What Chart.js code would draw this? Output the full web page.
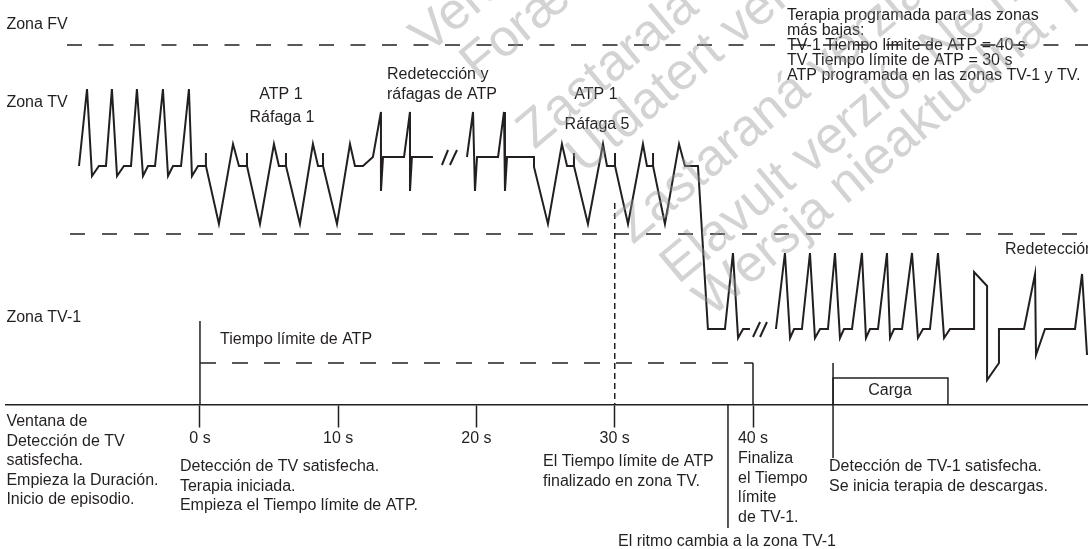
<!DOCTYPE html>
<html>
<head>
<meta charset="utf-8">
<script src="https://cdn.jsdelivr.net/npm/chart.js@4.4.1/dist/chart.umd.min.js"></script>
<style>
  html, body { margin: 0; padding: 0; background: #fff; }
  #wrap { width: 1088px; height: 549px; }
</style>
</head>
<body>
<div id="wrap"><canvas id="myChart"></canvas></div>
<script>
// time axis, seconds
const tickValues = [0, 10, 20, 30, 40];
const tickLabels = ['0 s', '10 s', '20 s', '30 s', '40 s'];

// ECG trace: time (s) and level (units above the time axis)
// TV rhythm, ATP 1 burst 1, redetection
const tvTime = [-8.75,-8.17,-7.81,-7.31,-6.80,-6.37,-6.00,-5.50,-4.99,-4.56,-4.12,-3.76,-3.25,-2.68,-2.31,-1.95,-1.37,-0.80,-0.58,-0.14,
  0.43,0.43,0.43,1.37,2.39,2.82,3.40,3.40,3.40,4.34,5.35,5.71,6.22,6.22,6.22,7.23,8.17,8.54,8.90,8.90,8.90,9.91,10.85,11.21,11.79,
  12.51,13.09,13.09,13.24,14.76,15.19,15.19,15.33,16.85];
const tvLevel = [23.9,31.6,22.9,23.9,23.9,31.6,22.9,23.9,23.9,31.6,22.9,23.9,23.9,31.6,22.9,23.9,23.9,31.6,22.9,23.9,
  23.9,25.2,23.9,18.1,26.1,23.9,23.9,25.2,23.9,18.1,26.1,23.9,23.9,25.2,23.9,18.1,26.1,23.9,23.9,25.2,23.9,18.1,26.1,23.9,23.9,
  24.8,29.3,21.4,24.8,24.8,29.3,21.4,24.8,24.8];
// redetection, ATP 1 burst 5, drop to TV-1 zone
const atpTime = [19.31,19.75,19.89,20.04,21.56,21.99,22.06,22.21,24.16,24.16,25.17,26.18,26.55,27.05,27.05,27.05,28.06,29.15,29.44,
  30.02,30.02,30.02,30.96,32.04,32.33,32.77,32.77,32.77,33.63,34.65,35.08,36.02,36.74,37.97,38.55,38.92,39.28,39.78];
const atpLevel = [24.8,29.3,21.4,24.8,24.8,29.3,21.4,24.8,24.8,23.8,18.1,26.1,23.9,23.9,25.2,23.9,18.1,26.1,23.9,
  23.9,25.2,23.9,18.1,26.1,23.9,23.9,25.2,23.9,18.1,26.1,23.9,23.9,7.6,7.6,15.2,6.7,7.6,7.6];
// TV-1 rhythm, shock, redetection
const tv1Time = [41.66,42.31,42.68,42.97,43.54,44.12,44.48,44.85,45.42,45.93,46.29,46.58,47.16,47.88,48.17,48.46,49.04,49.69,49.91,
  50.20,50.78,51.50,51.93,52.30,52.80,53.38,53.82,54.25,55.99,55.99,56.93,56.93,57.79,57.79,59.60,60.40,60.47,61.12,63.29,63.80,64.16];
const tv1Level = [7.6,15.2,6.7,7.6,7.6,15.2,6.7,7.6,7.6,15.2,6.7,7.6,7.6,15.2,6.7,7.6,7.6,15.2,6.7,
  7.6,7.6,15.2,6.7,7.6,7.6,15.2,6.7,7.6,7.6,13.3,11.9,2.5,4.2,7.6,7.6,13.1,5.0,7.6,7.6,13.1,5.0];

// break marks "//" : [t0, level0, t1, level1]
const breakMarks = [[17.50,24.0,17.94,25.5],[18.08,24.0,18.59,25.5],[40.00,6.8,40.51,8.3],[40.51,6.8,41.01,8.3]];

// zone limits (level) and event times
const fvLimit = 36.0;
const tvLimit = 17.1;
const atpTimeout = 40;       // TV-1 ATP timeout end
const tvTimeoutEnd = 30;     // TV ATP timeout end
const rhythmChange = 38.19;
const chargeStart = 45.79;
const chargeEnd = 54.10;

const ink = '#231f20';
const FONT = '"Liberation Sans", Arial, sans-serif';

const notes = [
  {lines: ['Zona FV'], x: -14.0, y: 38.0},
  {lines: ['Zona TV'], x: -14.0, y: 30.2},
  {lines: ['Zona TV-1'], x: -14.0, y: 8.7},
  {lines: ['ATP 1'], x: 5.86, y: 31.0, align: 'center'},
  {lines: ['Ráfaga 1'], x: 5.93, y: 28.7, align: 'center'},
  {lines: ['Redetección y', 'ráfagas de ATP'], x: 13.53, y: 33.0, step: 2.0},
  {lines: ['ATP 1'], x: 28.64, y: 31.0, align: 'center'},
  {lines: ['Ráfaga 5'], x: 28.72, y: 28.0, align: 'center'},
  {lines: ['Terapia programada para las zonas', 'más bajas:', 'TV-1 Tiempo límite de ATP = 40 s',
           'TV Tiempo límite de ATP = 30 s', 'ATP programada en las zonas TV-1 y TV.'], x: 42.46, y: 38.95, step: 1.5},
  {lines: ['Tiempo límite de ATP'], x: 1.45, y: 6.5},
  {lines: ['Redetección'], x: 58.23, y: 15.5},
  {lines: ['Carga'], x: 49.91, y: 1.4, align: 'center'},
  {lines: ['Ventana de', 'Detección de TV', 'satisfecha.', 'Empieza la Duración.', 'Inicio de episodio.'], x: -14.0, y: -1.7, step: 1.95},
  {lines: ['Detección de TV satisfecha.', 'Terapia iniciada.', 'Empieza el Tiempo límite de ATP.'], x: -1.45, y: -6.2, step: 1.95},
  {lines: ['El Tiempo límite de ATP', 'finalizado en zona TV.'], x: 24.81, y: -5.7, step: 1.95},
  {lines: ['Finaliza', 'el Tiempo', 'límite', 'de TV-1.'], x: 38.92, y: -5.4, step: 1.95},
  {lines: ['El ritmo cambia a la zona TV-1'], x: 30.24, y: -13.7},
  {lines: ['Detección de TV-1 satisfecha.', 'Se inicia terapia de descargas.'], x: 45.50, y: -6.2, step: 1.95}
];

const watermark = [
  {text: 'Version périmée', x: 16.49, y: 35.0},
  {text: 'Forældet version', x: 20.11, y: 32.3},
  {text: 'Zastaralá verze', x: 24.2, y: 25.5},
  {text: 'Utdatert versjon', x: 27.8, y: 23.0},
  {text: 'Zastaraná verzia', x: 31.3, y: 16.0},
  {text: 'Elavult verzió. Ne használja!', x: 34.6, y: 12.0},
  {text: 'Wersja nieaktualna. Nie używać.', x: 37.0, y: 8.7}
];

const pts = (xs, ys) => xs.map((v, i) => ({x: v, y: ys[i]}));
const seg = (data, extra) => Object.assign({
  data: data, borderColor: ink, borderWidth: 2, pointRadius: 0, fill: false, tension: 0
}, extra || {});

const datasets = [
  seg(pts(tvTime, tvLevel)),
  seg(pts(atpTime, atpLevel)),
  seg(pts(tv1Time, tv1Level)),
  ...breakMarks.map(b => seg([{x: b[0], y: b[1]}, {x: b[2], y: b[3]}], {borderWidth: 2})),
  seg([{x: -9.62, y: fvLimit}, {x: 64.3, y: fvLimit}], {borderWidth: 1.5, borderDash: [15, 16.5]}),
  seg([{x: -9.40, y: tvLimit}, {x: 64.3, y: tvLimit}], {borderWidth: 1.5, borderDash: [15, 17]}),
  seg([{x: 0, y: 8.4}, {x: 0, y: 0}], {borderWidth: 1.5}),
  seg([{x: 0, y: 4.2}, {x: atpTimeout, y: 4.2}], {borderWidth: 1.5, borderDash: [16, 16]}),
  seg([{x: atpTimeout, y: 4.2}, {x: atpTimeout, y: 0}], {borderWidth: 1.5}),
  seg([{x: tvTimeoutEnd, y: 20.2}, {x: tvTimeoutEnd, y: 0}], {borderWidth: 1.5, borderDash: [6, 4]}),
  seg([{x: rhythmChange, y: 0}, {x: rhythmChange, y: -12.3}], {borderWidth: 1.5}),
  seg([{x: chargeStart, y: 4.2}, {x: chargeStart, y: -5.3}], {borderWidth: 1.5}),
  seg([{x: chargeStart, y: 0}, {x: chargeStart, y: 2.7}, {x: chargeEnd, y: 2.7}, {x: chargeEnd, y: 0}], {borderWidth: 1.5})
];

const notesPlugin = {
  id: 'notes',
  afterDraw(chart) {
    const {ctx, scales: {x, y}} = chart;
    ctx.save();
    ctx.font = '16px ' + FONT;
    ctx.fillStyle = ink;
    ctx.textBaseline = 'middle';
    notes.forEach(n => {
      ctx.textAlign = n.align || 'left';
      n.lines.forEach((t, i) => {
        ctx.fillText(t, x.getPixelForValue(n.x), y.getPixelForValue(n.y - i * (n.step || 0)));
      });
    });
    // translucent grey watermark over everything
    ctx.font = '52px ' + FONT;
    ctx.fillStyle = 'rgba(150,150,150,0.42)';
    ctx.textAlign = 'left';
    ctx.textBaseline = 'alphabetic';
    watermark.forEach(w => {
      ctx.save();
      ctx.translate(x.getPixelForValue(w.x), y.getPixelForValue(w.y));
      ctx.rotate(-40 * Math.PI / 180);
      ctx.fillText(w.text, 0, 0);
      ctx.restore();
    });
    ctx.restore();
  }
};

const ctx = document.querySelector('#myChart');
new Chart(ctx, {
  type: 'line',
  data: {datasets: datasets},
  plugins: [notesPlugin],
  options: {
    responsive: true,
    maintainAspectRatio: false,
    animation: false,
    clip: false,
    layout: {padding: {left: 6, right: 0, top: 0, bottom: 0}},
    plugins: {legend: {display: false}, tooltip: {enabled: false}},
    scales: {
      x: {
        type: 'linear',
        min: -14.03,
        max: 64.23,
        position: {y: 0},
        afterBuildTicks: axis => { axis.ticks = tickValues.map(v => ({value: v})); },
        ticks: {
          callback: v => tickLabels[tickValues.indexOf(v)],
          color: ink,
          font: {size: 16, family: FONT},
          padding: 2,
          maxRotation: 0,
          autoSkip: false
        },
        grid: {drawOnChartArea: false, drawTicks: true, tickLength: 22, tickWidth: 1.5, tickColor: ink},
        border: {display: true, color: ink, width: 1.5}
      },
      y: {type: 'linear', min: -14.4, max: 40.5, display: false}
    }
  }
});
</script>
</body>
</html>
